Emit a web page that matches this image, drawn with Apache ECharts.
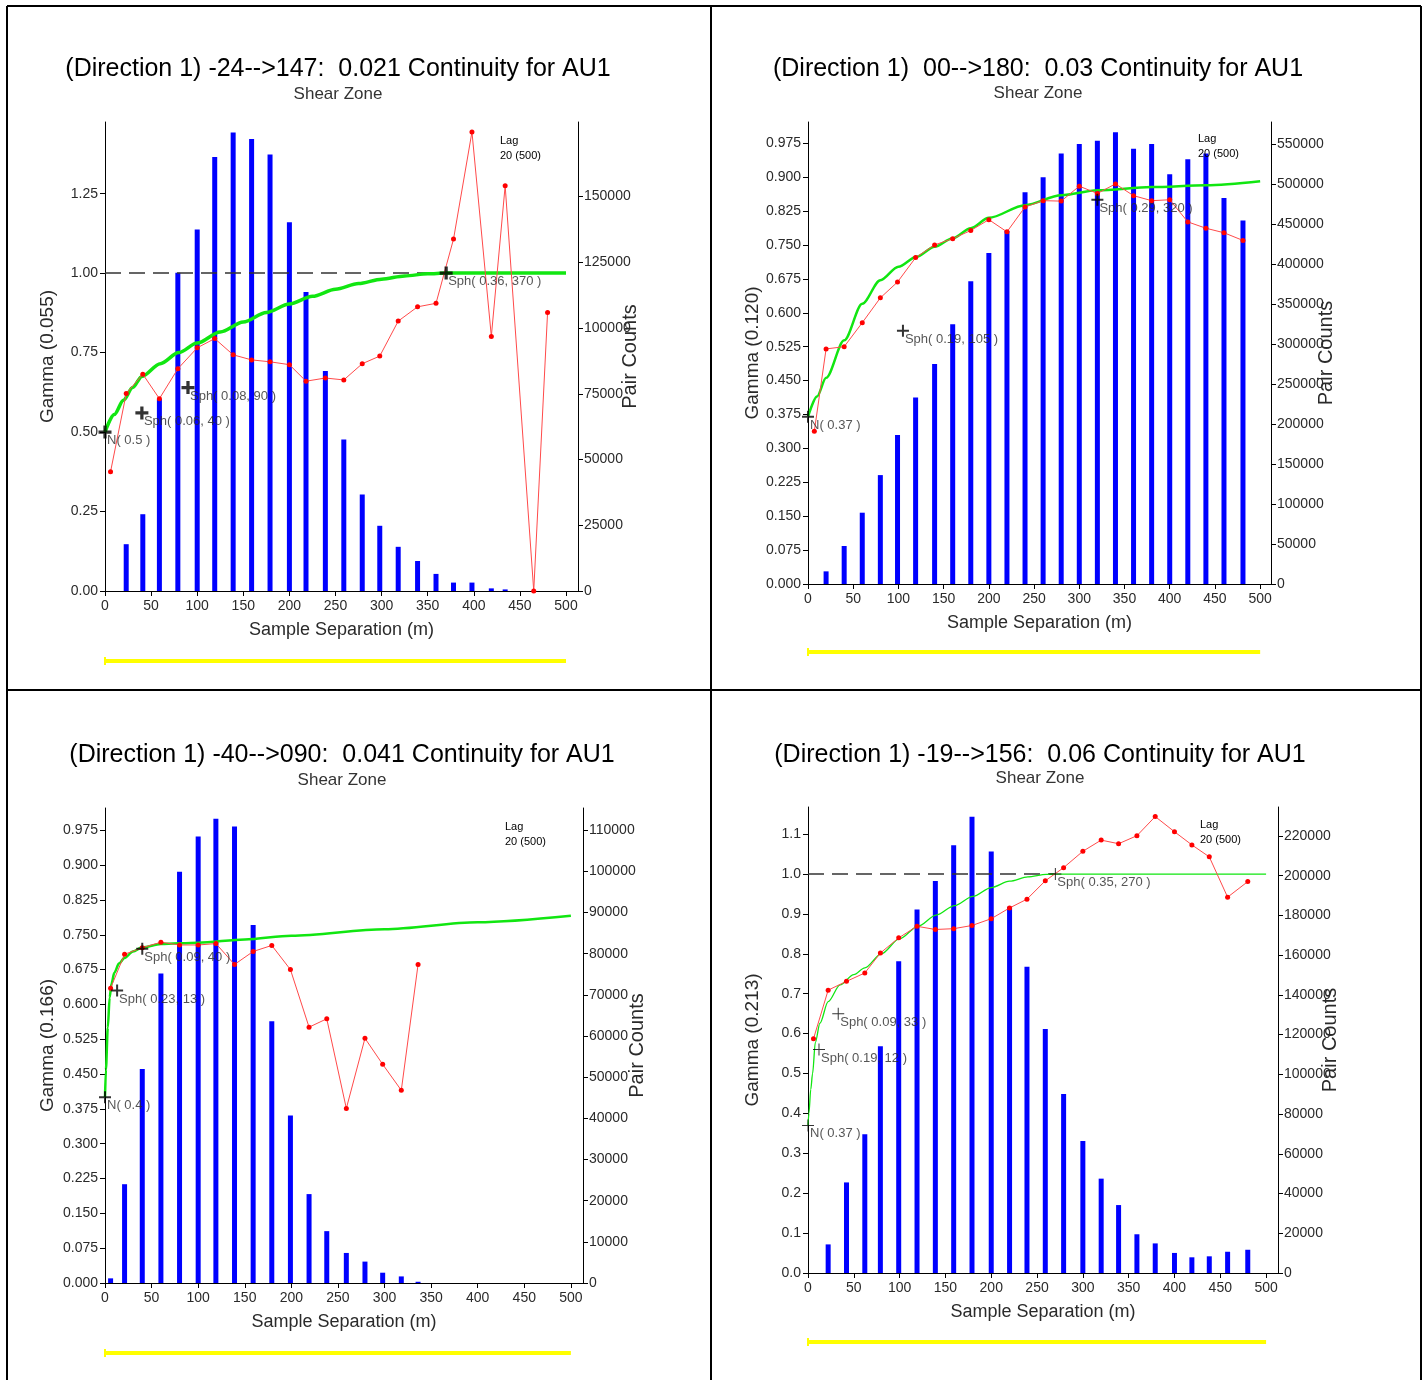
<!DOCTYPE html>
<html><head><meta charset="utf-8">
<script src="https://cdn.jsdelivr.net/npm/echarts@6/dist/echarts.min.js"></script>
<style>html,body{margin:0;padding:0;background:#fff}#c{width:1426px;height:1380px}</style>
</head><body><div id="c"></div>
<script>
// ---------- Panel 1 : -24-->147 ----------
const p1Title = '(Direction 1) -24-->147:  0.021 Continuity for AU1';
const p1Gamma = 'Gamma (0.055)';
const p1Dist  = [6, 23, 41, 59, 79, 100, 119, 139, 159, 179, 200, 218, 239, 259, 279, 298, 318, 339, 359, 378, 398, 419, 434, 465, 480];
const p1Pairs = [0, 17800, 29200, 73000, 121000, 137500, 165000, 174400, 171900, 166000, 140200, 113700, 83700, 57600, 36700, 24800, 16800, 11400, 6500, 3200, 3200, 1000, 600, 0, 0];
const p1Exp   = [0.375, 0.621, 0.682, 0.605, 0.699, 0.765, 0.794, 0.743, 0.727, 0.721, 0.712, 0.660, 0.670, 0.664, 0.715, 0.739, 0.849, 0.894, 0.905, 1.107, 1.444, 0.801, 1.275, 0.0, 0.876];
const p1ModelX = [0, 10, 20, 30, 40, 60, 80, 100, 125, 150, 175, 200, 225, 250, 275, 300, 325, 350, 370, 400, 450, 500];
const p1ModelY = [0.50, 0.555, 0.60, 0.64, 0.675, 0.715, 0.75, 0.78, 0.815, 0.846, 0.876, 0.903, 0.927, 0.949, 0.967, 0.981, 0.991, 0.998, 1.0, 1.0, 1.0, 1.0];
const p1Struct = [[0, 0.5, 'N( 0.5 )'], [40, 0.56, 'Sph( 0.06, 40 )'], [90, 0.64, 'Sph( 0.08, 90 )'], [370, 1.0, 'Sph( 0.36, 370 )']];
const p1Sill = [[0, 1.0], [370, 1.0]];
const p1GammaTicks = [0, 0.25, 0.5, 0.75, 1.0, 1.25];
const p1PairTicks = [0, 25000, 50000, 75000, 100000, 125000, 150000];

// ---------- Panel 2 : 00-->180 ----------
const p2Title = '(Direction 1)  00-->180:  0.03 Continuity for AU1';
const p2Gamma = 'Gamma (0.120)';
const p2Dist  = [7, 20, 40, 60, 80, 99, 119, 140, 160, 180, 200, 220, 240, 260, 280, 300, 320, 340, 360, 380, 400, 420, 440, 460, 481];
const p2Pairs = [0, 15800, 47500, 89100, 136100, 186100, 233100, 274800, 324700, 378400, 413800, 441300, 489600, 508300, 537900, 550000, 554100, 564500, 544100, 550000, 512100, 530800, 537900, 482500, 454200];
const p2Exp   = [0.338, 0.520, 0.525, 0.578, 0.633, 0.668, 0.722, 0.750, 0.764, 0.782, 0.806, 0.779, 0.834, 0.848, 0.847, 0.880, 0.864, 0.885, 0.859, 0.848, 0.850, 0.801, 0.787, 0.777, 0.760];
const p2ModelX = [0, 10, 20, 40, 60, 80, 100, 120, 140, 160, 180, 200, 240, 280, 320, 380, 440, 500];
const p2ModelY = [0.37, 0.415, 0.456, 0.539, 0.620, 0.672, 0.702, 0.724, 0.746, 0.765, 0.787, 0.810, 0.838, 0.860, 0.871, 0.878, 0.882, 0.891];
const p2Struct = [[0, 0.37, 'N( 0.37 )'], [105, 0.56, 'Sph( 0.19, 105 )'], [320, 0.85, 'Sph( 0.29, 320 )']];
const p2Sill = [];
const p2GammaTicks = [0, 0.075, 0.15, 0.225, 0.3, 0.375, 0.45, 0.525, 0.6, 0.675, 0.75, 0.825, 0.9, 0.975];
const p2PairTicks = [0, 50000, 100000, 150000, 200000, 250000, 300000, 350000, 400000, 450000, 500000, 550000];

// ---------- Panel 3 : -40-->090 ----------
const p3Title = '(Direction 1) -40-->090:  0.041 Continuity for AU1';
const p3Gamma = 'Gamma (0.166)';
const p3Dist  = [6, 21, 40, 60, 80, 100, 119, 139, 159, 179, 199, 219, 238, 259, 279, 298, 318, 336];
const p3Pairs = [1130, 24000, 52000, 75200, 99900, 108500, 112800, 110900, 87000, 63600, 40700, 21600, 12600, 7300, 5200, 2500, 1600, 300];
const p3Exp   = [0.635, 0.708, 0.722, 0.734, 0.728, 0.728, 0.731, 0.686, 0.714, 0.727, 0.675, 0.551, 0.569, 0.376, 0.527, 0.471, 0.415, 0.686];
const p3ModelX = [0, 1, 3, 5, 7, 10, 15, 21, 30, 40, 60, 100, 150, 200, 300, 400, 500];
const p3ModelY = [0.40, 0.46, 0.55, 0.615, 0.645, 0.668, 0.688, 0.70, 0.714, 0.723, 0.730, 0.733, 0.740, 0.748, 0.762, 0.777, 0.791];
const p3Struct = [[0, 0.40, 'N( 0.4 )'], [13, 0.63, 'Sph( 0.23, 13 )'], [40, 0.72, 'Sph( 0.09, 40 )']];
const p3Sill = [];
const p3GammaTicks = p2GammaTicks;
const p3PairTicks = [0, 10000, 20000, 30000, 40000, 50000, 60000, 70000, 80000, 90000, 100000, 110000];

// ---------- Panel 4 : -19-->156 ----------
const p4Title = '(Direction 1) -19-->156:  0.06 Continuity for AU1';
const p4Gamma = 'Gamma (0.213)';
const p4Dist  = [6, 22, 42, 62, 79, 99, 119, 139, 159, 179, 200, 220, 239, 259, 279, 300, 320, 339, 359, 379, 400, 419, 438, 458, 480];
const p4Pairs = [0, 14400, 45600, 69800, 114100, 156900, 183000, 197300, 215400, 229700, 212200, 184400, 154200, 122800, 90100, 66400, 47500, 34200, 19500, 14900, 10100, 7900, 8400, 10700, 11700];
const p4Exp   = [0.587, 0.709, 0.731, 0.752, 0.802, 0.840, 0.869, 0.861, 0.863, 0.871, 0.888, 0.915, 0.937, 0.983, 1.016, 1.057, 1.085, 1.076, 1.096, 1.144, 1.106, 1.073, 1.043, 0.942, 0.981];
const p4ModelX = [0, 1, 3, 5, 8, 13, 22, 35, 50, 62, 80, 100, 120, 140, 160, 180, 200, 220, 240, 260, 270, 300, 400, 500];
const p4ModelY = [0.37, 0.40, 0.46, 0.50, 0.578, 0.626, 0.680, 0.722, 0.748, 0.765, 0.800, 0.838, 0.869, 0.897, 0.921, 0.944, 0.966, 0.982, 0.993, 0.999, 1.0, 1.0, 1.0, 1.0];
const p4Struct = [[0, 0.37, 'N( 0.37 )'], [12, 0.56, 'Sph( 0.19, 12 )'], [33, 0.65, 'Sph( 0.09, 33 )'], [270, 1.0, 'Sph( 0.35, 270 )']];
const p4Sill = [[0, 1.0], [270, 1.0]];
const p4GammaTicks = [0, 0.1, 0.2, 0.3, 0.4, 0.5, 0.6, 0.7, 0.8, 0.9, 1.0, 1.1];
const p4PairTicks = [0, 20000, 40000, 60000, 80000, 100000, 120000, 140000, 160000, 180000, 200000, 220000];

const xTicks = [0, 50, 100, 150, 200, 250, 300, 350, 400, 450, 500];
const subTitle = 'Shear Zone';
const xName = 'Sample Separation (m)';
const pairName = 'Pair Counts';
const lagText = ['Lag', '20 (500)'];

// ---------- layout ----------
const FONT = '"Liberation Sans", Arial, sans-serif';
const panels = [
  {title: p1Title, gname: p1Gamma, dist: p1Dist, pairs: p1Pairs, exp: p1Exp, mx: p1ModelX, my: p1ModelY, st: p1Struct, sill: p1Sill,
   gt: p1GammaTicks, pt: p1PairTicks, dec: 2,
   grid: {left: 105, top: 122, width: 473, height: 469}, gmax: 1.4754, pmax: 178350, xmax: 513,
   tx: 338, ty: 69, sy: 94, lx: 500, ly: 141, yy: 661, gw: 3.5, cw: 3, cs: 13, gGap: 48, pGap: 42},
  {title: p2Title, gname: p2Gamma, dist: p2Dist, pairs: p2Pairs, exp: p2Exp, mx: p2ModelX, my: p2ModelY, st: p2Struct, sill: p2Sill,
   gt: p2GammaTicks, pt: p2PairTicks, dec: 3,
   grid: {left: 808, top: 122, width: 463, height: 462}, gmax: 1.022, pmax: 577400, xmax: 512,
   tx: 1038, ty: 69, sy: 93, lx: 1198, ly: 139, yy: 652, gw: 2.5, cw: 2, cs: 12, gGap: 46, pGap: 45},
  {title: p3Title, gname: p3Gamma, dist: p3Dist, pairs: p3Pairs, exp: p3Exp, mx: p3ModelX, my: p3ModelY, st: p3Struct, sill: p3Sill,
   gt: p3GammaTicks, pt: p3PairTicks, dec: 3,
   grid: {left: 105, top: 808, width: 478, height: 475}, gmax: 1.023, pmax: 115400, xmax: 513,
   tx: 342, ty: 755, sy: 780, lx: 505, ly: 827, yy: 1353, gw: 2.5, cw: 2, cs: 12, gGap: 48, pGap: 44},
  {title: p4Title, gname: p4Gamma, dist: p4Dist, pairs: p4Pairs, exp: p4Exp, mx: p4ModelX, my: p4ModelY, st: p4Struct, sill: p4Sill,
   gt: p4GammaTicks, pt: p4PairTicks, dec: 1,
   grid: {left: 808, top: 807, width: 470, height: 466}, gmax: 1.168, pmax: 234600, xmax: 513,
   tx: 1040, ty: 755, sy: 778, lx: 1200, ly: 825, yy: 1342, gw: 1.3, cw: 1, cs: 12, gGap: 46, pGap: 42}
];

function crossPath(t) {
  const a = (12 - t) / 2, b = a + t;
  return `path://M${a},0H${b}V${a}H12V${b}H${b}V12H${a}V${b}H0V${a}H${a}Z`;
}

const axisLbl = {fontSize: 14, color: '#2a2a2a', fontFamily: FONT};
const grids = [], xAxes = [], yAxes = [], series = [], graphics = [];

panels.forEach((p, i) => {
  grids.push(Object.assign({containLabel: false, outerBoundsMode: 'none'}, p.grid));
  xAxes.push({
    type: 'value', gridIndex: i, min: 0, max: p.xmax,
    name: xName, nameLocation: 'middle', nameGap: 30, nameMoveOverlap: false,
    nameTextStyle: {fontSize: 18, color: '#2a2a2a', fontFamily: FONT},
    axisLine: {show: true, onZero: false, lineStyle: {color: '#000', width: 1}},
    axisTick: {show: true, customValues: xTicks, length: 5, lineStyle: {color: '#000'}},
    axisLabel: Object.assign({customValues: xTicks, margin: 8}, axisLbl),
    splitLine: {show: false}
  });
  yAxes.push({
    type: 'value', gridIndex: i, position: 'left', min: 0, max: p.gmax,
    name: p.gname, nameLocation: 'middle', nameGap: p.gGap, nameMoveOverlap: false,
    nameTextStyle: {fontSize: 19, color: '#2a2a2a', fontFamily: FONT},
    axisLine: {show: true, onZero: false, lineStyle: {color: '#000', width: 1}},
    axisTick: {show: true, customValues: p.gt, length: 5, lineStyle: {color: '#000'}},
    axisLabel: Object.assign({customValues: p.gt, margin: 7, formatter: v => (+v).toFixed(p.dec)}, axisLbl),
    splitLine: {show: false}
  });
  yAxes.push({
    type: 'value', gridIndex: i, position: 'right', min: 0, max: p.pmax,
    name: pairName, nameLocation: 'middle', nameGap: p.pGap, nameMoveOverlap: false,
    nameTextStyle: {fontSize: 20, color: '#2a2a2a', fontFamily: FONT},
    axisLine: {show: true, onZero: false, lineStyle: {color: '#000', width: 1}},
    axisTick: {show: true, customValues: p.pt, length: 5, lineStyle: {color: '#000'}},
    axisLabel: Object.assign({customValues: p.pt, margin: 6, formatter: v => String(Math.round(v))}, axisLbl),
    splitLine: {show: false}
  });
  const yl = i * 2, yr = i * 2 + 1;
  series.push({
    type: 'bar', xAxisIndex: i, yAxisIndex: yr, barWidth: 5, z: 1,
    itemStyle: {color: '#0000ff'},
    data: p.dist.map((d, k) => [d, p.pairs[k]])
  });
  if (p.sill.length) {
    series.push({
      type: 'line', xAxisIndex: i, yAxisIndex: yl, symbol: 'none', z: 2,
      lineStyle: {color: '#333', width: 1.5, type: [16, 8]},
      data: p.sill
    });
  }
  series.push({
    type: 'line', xAxisIndex: i, yAxisIndex: yl, symbol: 'none', z: 3,
    smooth: 0.3, smoothMonotone: 'x',
    lineStyle: {color: '#11e611', width: p.gw},
    data: p.mx.map((x, k) => [x, p.my[k]])
  });
  series.push({
    type: 'line', xAxisIndex: i, yAxisIndex: yl, z: 4,
    symbol: 'circle', symbolSize: 5, showAllSymbol: true,
    itemStyle: {color: '#ff0000'},
    lineStyle: {color: '#ff4a4a', width: 1},
    data: p.dist.map((d, k) => [d, p.exp[k]])
  });
  series.push({
    type: 'scatter', xAxisIndex: i, yAxisIndex: yl, z: 5,
    symbol: crossPath(p.cw), symbolSize: p.cs,
    itemStyle: {color: '#000'},
    label: {show: true, position: [p.cs / 2 + 2, p.cs / 2 + 2], align: 'left', verticalAlign: 'top',
      fontSize: 13, color: '#2a2a2a', fontFamily: FONT, formatter: o => o.data[2]},
    data: p.st
  });
  graphics.push({type: 'text', z: 10, style: {text: p.title, x: p.tx, y: p.ty, align: 'center', verticalAlign: 'middle', fontSize: 25, fontFamily: FONT, fill: '#000'}});
  graphics.push({type: 'text', z: 10, style: {text: subTitle, x: p.tx, y: p.sy, align: 'center', verticalAlign: 'middle', fontSize: 17, fontFamily: FONT, fill: '#333'}});
  graphics.push({type: 'text', z: 10, style: {text: lagText[0], x: p.lx, y: p.ly, align: 'left', verticalAlign: 'middle', fontSize: 11, fontFamily: FONT, fill: '#000'}});
  graphics.push({type: 'text', z: 10, style: {text: lagText[1], x: p.lx, y: p.ly + 15, align: 'left', verticalAlign: 'middle', fontSize: 11, fontFamily: FONT, fill: '#000'}});
});

// frame
const B = {stroke: '#000', lineWidth: 2};
[[7, 6, 1421, 6], [7, 6, 7, 1380], [1421, 6, 1421, 1380], [711, 6, 711, 1380], [7, 690, 1421, 690]].forEach(s => {
  graphics.push({type: 'line', z: 10, shape: {x1: s[0], y1: s[1], x2: s[2], y2: s[3]}, style: B});
});

const chart = echarts.init(document.getElementById('c'), null, {renderer: 'canvas'});
chart.setOption({
  animation: false,
  backgroundColor: '#fff',
  grid: grids, xAxis: xAxes, yAxis: yAxes, series: series, graphic: graphics
});

// yellow bars under each panel spanning the 0..500 separation range
panels.forEach((p, i) => {
  const a = chart.convertToPixel({xAxisIndex: i}, 0);
  const b = chart.convertToPixel({xAxisIndex: i}, 500);
  graphics.push({type: 'line', z: 10, shape: {x1: a, y1: p.yy, x2: b, y2: p.yy}, style: {stroke: '#ffff00', lineWidth: 4}});
  graphics.push({type: 'line', z: 10, shape: {x1: a, y1: p.yy - 4, x2: a, y2: p.yy + 4}, style: {stroke: '#ffff00', lineWidth: 2}});
});
chart.setOption({graphic: graphics});
</script></body></html>
